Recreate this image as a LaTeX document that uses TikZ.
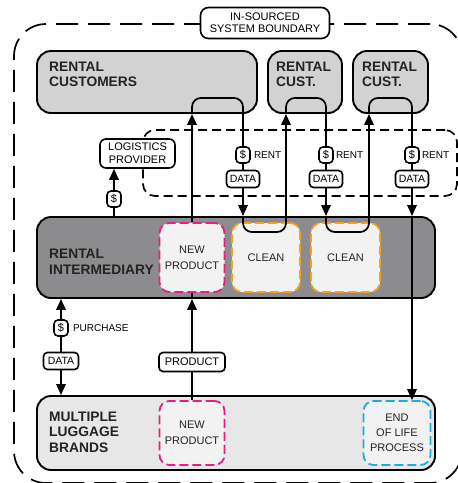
\documentclass[tikz,border=0pt]{standalone}
\usepackage{fontspec}
\setmainfont{Liberation Sans}
\usetikzlibrary{arrows.meta,positioning}
\definecolor{custgray}{RGB}{210,210,211}
\definecolor{intergray}{RGB}{140,140,142}
\definecolor{brandgray}{RGB}{231,231,232}
\definecolor{inbox}{RGB}{242,242,242}
\definecolor{npmag}{RGB}{228,30,130}
\definecolor{cleanor}{RGB}{247,160,30}
\definecolor{eolcyan}{RGB}{30,170,225}
\definecolor{txt}{RGB}{35,35,35}
\tikzset{
  party/.style={draw, line width=1.9pt, rounded corners=14pt, inner sep=0pt},
  heading/.style={anchor=west, align=left, inner sep=0pt, text=txt, font=\fontsize{13.8}{15.5}\selectfont\bfseries},
  stage/.style={draw, line width=1.8pt, dash pattern=on 9pt off 4pt, rounded corners=10pt, fill=inbox, inner sep=0pt, align=center, text=txt, font=\fontsize{11}{16}\selectfont},
  tag/.style={draw, line width=1.6pt, rounded corners=4pt, fill=white, inner sep=0pt, align=center, font=\fontsize{10.5}{12}\selectfont},
  dollar/.style={tag, minimum width=14pt, minimum height=16pt, font=\fontsize{11}{12}\selectfont},
  datatag/.style={tag, minimum width=33pt, minimum height=17pt},
  side/.style={inner sep=0pt, font=\fontsize{10}{12}\selectfont},
  flow/.style={line width=1.7pt, rounded corners=9pt, -{Triangle[length=11pt,width=9.5pt]}},
  link/.style={line width=1.7pt, rounded corners=9pt},
}
\begin{document}
\begin{tikzpicture}[x=1pt,y=-1pt]
\useasboundingbox (0,0) rectangle (458,483);
\node[draw, line width=1.7pt, dash pattern=on 22pt off 10pt, rounded corners=32pt, minimum width=448pt, minimum height=459pt, inner sep=0pt] (boundary) at (238,253.5) {};
\node[tag, rounded corners=8pt, minimum width=129pt, minimum height=31pt, font=\fontsize{11}{12}\selectfont] (bndlabel) at (265,23) {IN-SOURCED\\SYSTEM BOUNDARY};
\node[draw, line width=1.7pt, dash pattern=on 9pt off 5pt, rounded corners=12pt, minimum width=314pt, minimum height=66pt, inner sep=0pt] (zone) at (300,163) {};
\node[party, fill=custgray, minimum width=220pt, minimum height=62pt] (cust1) at (147,82) {};
\node[heading] (cust1txt) at (49,74.5) {RENTAL\\CUSTOMERS};
\node[party, fill=custgray, minimum width=74pt, minimum height=62pt] (cust2) at (305,82) {};
\node[heading] (cust2txt) at (276,74.5) {RENTAL\\CUST.};
\node[party, fill=custgray, minimum width=75pt, minimum height=62pt] (cust3) at (390.5,82) {};
\node[heading] (cust3txt) at (362,74.5) {RENTAL\\CUST.};
\node[party, fill=intergray, minimum width=398pt, minimum height=81pt] (inter) at (236,257.5) {};
\node[heading] (intertxt) at (49,261.5) {RENTAL\\INTERMEDIARY};
\node[stage, draw=npmag, minimum width=65pt, minimum height=69pt] (npI) at (192,257.5) {NEW\\PRODUCT};
\node[stage, draw=cleanor, minimum width=68pt, minimum height=69pt] (clean1) at (266,257.5) {CLEAN};
\node[stage, draw=cleanor, minimum width=69pt, minimum height=69pt] (clean2) at (345.5,257.5) {CLEAN};
\node[party, fill=brandgray, minimum width=398pt, minimum height=74pt] (brands) at (236,433) {};
\node[heading] (brandstxt) at (49,432) {MULTIPLE\\LUGGAGE\\BRANDS};
\node[stage, draw=npmag, minimum width=65pt, minimum height=64pt] (npB) at (192,433) {NEW\\PRODUCT};
\node[stage, draw=eolcyan, minimum width=67pt, minimum height=64pt, font=\fontsize{11}{15}\selectfont] (eol) at (397,433) {END\\OF LIFE\\PROCESS};
\node[dollar] (rent1) at (243,155) {\$};
\node[side, right=3pt of rent1] (rent1txt) {RENT};
\node[datatag] (data1) at (243,179) {DATA};
\node[dollar] (rent2) at (326,155) {\$};
\node[side, right=2pt of rent2] (rent2txt) {RENT};
\node[datatag] (data2) at (326,179) {DATA};
\node[dollar] (rent3) at (412,155) {\$};
\node[side, right=2pt of rent3] (rent3txt) {RENT};
\node[datatag] (data3) at (412,179) {DATA};
\node[tag, rounded corners=6pt, minimum width=75pt, minimum height=29pt, font=\fontsize{11}{13}\selectfont] (logist) at (137.5,153.5) {LOGISTICS\\PROVIDER};
\node[dollar] (dlog) at (114,199) {\$};
\node[dollar] (dpur) at (61,328) {\$};
\node[side, right=4pt of dpur] (purtxt) {PURCHASE};
\node[datatag, minimum width=35pt] (dpdata) at (61,361) {DATA};
\node[tag, minimum width=66pt, minimum height=19pt, font=\fontsize{11}{12}\selectfont] (prod) at (192,362) {PRODUCT};
\draw[flow] (npI.north) -- (npI.north |- cust1.south);
\draw[link] (npI.north |- cust1.south) -- ++(0,-16) -| (rent1.north);
\draw[link] (rent1.south) -- (data1.north);
\draw[flow] (data1.south) -- (data1.south |- inter.north);
\draw[flow] (data1.south |- inter.north) -- ++(0,16) -| ([xshift=-19pt]cust2.south);
\draw[link] ([xshift=-19pt]cust2.south) -- ++(0,-16) -| (rent2.north);
\draw[link] (rent2.south) -- (data2.north);
\draw[flow] (data2.south) -- (data2.south |- inter.north);
\draw[flow] (data2.south |- inter.north) -- ++(0,16) -| ([xshift=-21.5pt]cust3.south);
\draw[link] ([xshift=-21.5pt]cust3.south) -- ++(0,-16) -| (rent3.north);
\draw[link] (rent3.south) -- (data3.north);
\draw[flow] (data3.south) -- (data3.south |- inter.north);
\draw[flow] (data3.south |- inter.north) -- (data3.south |- eol.north);
\draw[flow] (dlog.north) -- (dlog.north |- logist.south);
\draw[link] (dlog.south) -- (dlog.south |- inter.north);
\draw[flow] (dpur.north) -- (dpur.north |- inter.south);
\draw[link] (dpdata.north) -- (dpur.south);
\draw[flow] (dpdata.south) -- (dpdata.south |- brands.north);
\draw[link] (npB.north) -- (prod.south);
\draw[flow] (prod.north) -- (prod.north |- inter.south);
\draw[link] (prod.north |- inter.south) -- (npI.south);
\end{tikzpicture}
\end{document}
